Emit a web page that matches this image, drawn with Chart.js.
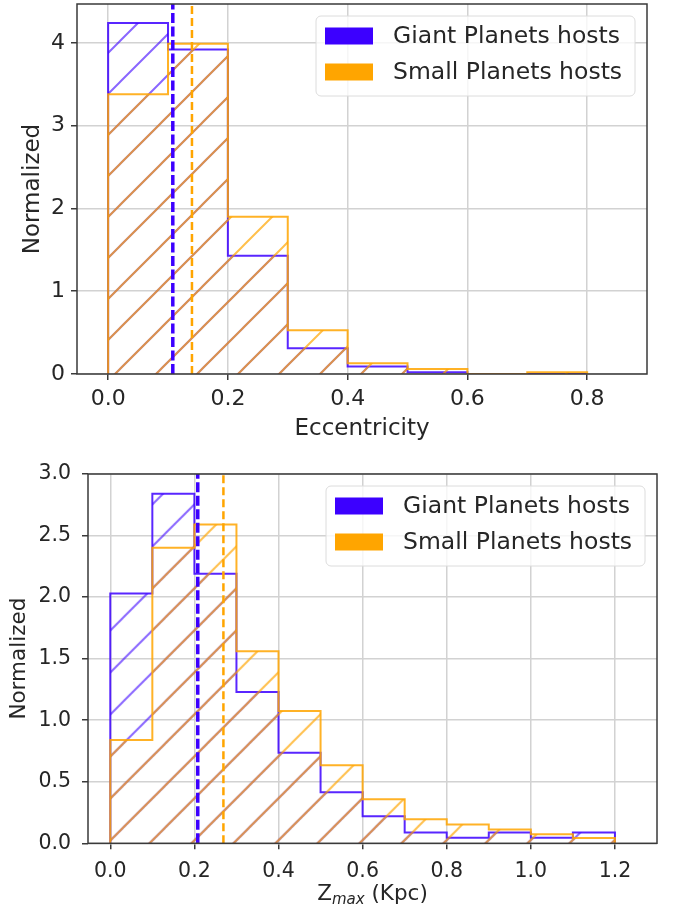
<!DOCTYPE html>
<html>
<head>
<meta charset="utf-8">
<script src="https://cdn.jsdelivr.net/npm/chart.js@4.4.0/dist/chart.umd.min.js"></script>
<style>
    body { margin: 0; background: #fff; }
    #wrap { position: relative; width: 680px; height: 921px; }
    #topChart { position: absolute; left: 0; top: 0; }
    #bottomChart { position: absolute; left: 0; top: 450px; }
</style>
</head>
<body>
<div id="wrap">
    <canvas id="topChart" width="680" height="450"></canvas>
    <canvas id="bottomChart" width="680" height="471"></canvas>
</div>
<script>
// Series names (shared by both panels)
const seriesNames = ['Giant Planets hosts', 'Small Planets hosts'];

// Top panel: eccentricity histograms
const eccEdges = [0, 0.1, 0.2, 0.3, 0.4, 0.5, 0.6, 0.7, 0.8];
const eccGiant = [4.24, 3.92, 1.43, 0.31, 0.09, 0.02, 0, 0];
const eccSmall = [3.38, 3.99, 1.90, 0.53, 0.13, 0.06, 0, 0.02];
const eccMeans = [0.108, 0.14];   // giant, small
const eccXTicks = [0, 0.2, 0.4, 0.6, 0.8];
const eccYTicks = [0, 1, 2, 3, 4];

// Bottom panel: Zmax histograms
const zEdges = [0, 0.1, 0.2, 0.3, 0.4, 0.5, 0.6, 0.7, 0.8, 0.9, 1.0, 1.1, 1.2];
const zGiant = [2.03, 2.84, 2.19, 1.23, 0.735, 0.415, 0.219, 0.087, 0.046, 0.087, 0.046, 0.087];
const zSmall = [0.84, 2.40, 2.59, 1.56, 1.075, 0.635, 0.357, 0.195, 0.152, 0.113, 0.073, 0.043];
const zMeans = [0.208, 0.269];
const zXTicks = [0, 0.2, 0.4, 0.6, 0.8, 1.0, 1.2];
const zYTicks = [0, 0.5, 1.0, 1.5, 2.0, 2.5, 3.0];

const BLUE = '#3c00ff';
const ORANGE = '#ffa500';
const FONT = 'DejaVu Sans';
const TEXT = '#262626';

/**
 * Outline of a step histogram: up at the first edge, across each bin, down at the last edge
 */
function stepPoints(edges, heights) {
    const pts = [{ x: edges[0], y: 0 }];
    heights.forEach((h, i) => pts.push({ x: edges[i], y: h }));
    pts.push({ x: edges[edges.length - 1], y: 0 });
    return pts;
}

/**
 * "/" hatch pattern, anchored to the canvas
 */
function hatch(color, size, phase) {
    const c = document.createElement('canvas');
    c.width = size;
    c.height = size;
    const g = c.getContext('2d');
    g.strokeStyle = color;
    g.lineWidth = 2;
    g.beginPath();
    for (const k of [0, 1, 2]) {
        g.moveTo(-4, k * size + 4);
        g.lineTo(k * size + 4, -4);
    }
    g.stroke();
    const p = g.createPattern(c, 'repeat');
    p.setTransform(new DOMMatrix().translate(phase, 0));
    return p;
}

// Axes frame on top of the data
const framePlugin = {
    id: 'frame',
    afterDatasetsDraw(chart) {
        const a = chart.chartArea;
        const ctx = chart.ctx;
        ctx.save();
        ctx.strokeStyle = '#3a3a3a';
        ctx.lineWidth = 1.5;
        ctx.strokeRect(a.left, a.top, a.right - a.left, a.bottom - a.top);
        ctx.restore();
    }
};

// Legend box drawn inside the plot, upper right
const legendPlugin = {
    id: 'innerLegend',
    afterDraw(chart, args, opts) {
        const a = chart.chartArea;
        const ctx = chart.ctx;
        const w = 319, h = 80;
        const x0 = a.right - 12 - w;
        const y0 = a.top + 12;
        ctx.save();
        ctx.beginPath();
        ctx.roundRect(x0, y0, w, h, 5);
        ctx.fillStyle = 'rgba(255,255,255,0.8)';
        ctx.fill();
        ctx.strokeStyle = '#dcdcdc';
        ctx.lineWidth = 1;
        ctx.stroke();
        const colors = [BLUE, ORANGE];
        ctx.font = opts.fontSize + 'px "' + FONT + '"';
        ctx.textBaseline = 'middle';
        seriesNames.forEach((name, i) => {
            const cy = y0 + 20 + i * 36;
            ctx.fillStyle = colors[i];
            ctx.fillRect(x0 + 9, cy - 8.5, 48, 17);
            ctx.fillStyle = TEXT;
            ctx.fillText(name, x0 + 77, cy + 1);
        });
        ctx.restore();
    }
};

// Z_max axis title with an italic subscript
const zTitlePlugin = {
    id: 'zTitle',
    afterDraw(chart) {
        const a = chart.chartArea;
        const ctx = chart.ctx;
        const big = '21.5px "' + FONT + '"';
        const small = 'italic 15px "' + FONT + '"';
        ctx.save();
        ctx.fillStyle = TEXT;
        ctx.textBaseline = 'alphabetic';
        ctx.font = big;
        const wZ = ctx.measureText('Z').width;
        const wRest = ctx.measureText(' (Kpc)').width;
        ctx.font = small;
        const wSub = ctx.measureText('max').width;
        const total = wZ + wSub + wRest;
        let x = (a.left + a.right) / 2 - total / 2;
        const base = 450;
        ctx.font = big;
        ctx.fillText('Z', x, base);
        x += wZ;
        ctx.font = small;
        ctx.fillText('max', x, base + 4);
        x += wSub;
        ctx.font = big;
        ctx.fillText(' (Kpc)', x, base);
        ctx.restore();
    }
};

function buildChart(el, p) {
    const gridOpts = {
        color: '#d2d2d2',
        lineWidth: 1.5,
        tickColor: '#3a3a3a',
        tickLength: 6,
        tickWidth: 1.5
    };
    return new Chart(el, {
        type: 'line',
        data: {
            datasets: [
                {
                    label: seriesNames[0],
                    data: stepPoints(p.edges, p.giant),
                    stepped: 'before',
                    borderColor: 'rgba(60,0,255,0.85)',
                    borderWidth: 2,
                    backgroundColor: hatch('rgba(60,0,255,0.6)', p.hatchSize, p.hatchPhase),
                    fill: 'origin',
                    pointRadius: 0,
                    order: 3
                },
                {
                    label: seriesNames[1],
                    data: stepPoints(p.edges, p.small),
                    stepped: 'before',
                    borderColor: 'rgba(255,165,0,0.85)',
                    borderWidth: 2,
                    backgroundColor: hatch('rgba(255,165,0,0.7)', p.hatchSize, p.hatchPhase),
                    fill: 'origin',
                    pointRadius: 0,
                    order: 2
                },
                {
                    label: 'giant mean',
                    data: [{ x: p.means[0], y: 0 }, { x: p.means[0], y: p.yMax }],
                    borderColor: BLUE,
                    borderWidth: 3.5,
                    borderDash: [10, 3.5],
                    fill: false,
                    pointRadius: 0,
                    order: 1
                },
                {
                    label: 'small mean',
                    data: [{ x: p.means[1], y: 0 }, { x: p.means[1], y: p.yMax }],
                    borderColor: ORANGE,
                    borderWidth: 2.5,
                    borderDash: [8, 4],
                    fill: false,
                    pointRadius: 0,
                    order: 0
                }
            ]
        },
        options: {
            responsive: false,
            animation: false,
            devicePixelRatio: 1,
            layout: { autoPadding: false, padding: p.padding },
            plugins: {
                legend: { display: false },
                tooltip: { enabled: false },
                innerLegend: { fontSize: 23.5 }
            },
            scales: {
                x: {
                    type: 'linear',
                    min: p.xMin,
                    max: p.xMax,
                    afterBuildTicks: s => { s.ticks = p.xTicks.map(v => ({ value: v })); },
                    afterFit: s => {
                        s.height = p.xAxisHeight;
                        s.paddingLeft = 0;
                        s.paddingRight = 0;
                    },
                    ticks: {
                        callback: v => v.toFixed(1),
                        font: { family: FONT, size: p.tickSize },
                        color: TEXT,
                        padding: p.xTickPad,
                        maxRotation: 0
                    },
                    grid: gridOpts,
                    border: { display: false },
                    title: {
                        display: !!p.xTitle,
                        text: p.xTitle || '',
                        font: { family: FONT, size: p.titleSize },
                        color: TEXT,
                        padding: { top: 0, bottom: p.xTitlePad }
                    }
                },
                y: {
                    type: 'linear',
                    min: 0,
                    max: p.yMax,
                    afterBuildTicks: s => { s.ticks = p.yTicks.map(v => ({ value: v })); },
                    afterFit: s => {
                        s.width = p.yAxisWidth;
                        s.paddingTop = 0;
                        s.paddingBottom = 0;
                    },
                    ticks: {
                        callback: p.yLabel,
                        font: { family: FONT, size: p.tickSize },
                        color: TEXT,
                        padding: p.yTickPad
                    },
                    grid: gridOpts,
                    border: { display: false },
                    title: {
                        display: true,
                        text: 'Normalized',
                        font: { family: FONT, size: p.titleSize },
                        color: TEXT,
                        padding: { top: p.yTitlePad, bottom: 0 }
                    }
                }
            }
        },
        plugins: p.plugins
    });
}

buildChart(document.getElementById('topChart'), {
    edges: eccEdges, giant: eccGiant, small: eccSmall, means: eccMeans,
    xTicks: eccXTicks, yTicks: eccYTicks,
    xMin: -0.052, xMax: 0.9, yMax: 4.47,
    padding: { left: 0, right: 33, top: 4, bottom: 0 },
    yAxisWidth: 77, xAxisHeight: 76,
    tickSize: 22, titleSize: 23,
    xTickPad: 6, yTickPad: 6,
    xTitle: 'Eccentricity', xTitlePad: 7, yTitlePad: 19,
    yLabel: v => String(v),
    hatchSize: 41, hatchPhase: 38,
    plugins: [framePlugin, legendPlugin]
});

buildChart(document.getElementById('bottomChart'), {
    edges: zEdges, giant: zGiant, small: zSmall, means: zMeans,
    xTicks: zXTicks, yTicks: zYTicks,
    xMin: -0.053, xMax: 1.30, yMax: 3.0,
    padding: { left: 0, right: 23, top: 24, bottom: 0 },
    yAxisWidth: 88, xAxisHeight: 77.7,
    tickSize: 20.5, titleSize: 21.5,
    xTickPad: 10, yTickPad: 11,
    xTitle: null, xTitlePad: 0, yTitlePad: 7,
    yLabel: v => v.toFixed(1),
    hatchSize: 42, hatchPhase: 38.7,
    plugins: [framePlugin, legendPlugin, zTitlePlugin]
});
</script>
</body>
</html>
